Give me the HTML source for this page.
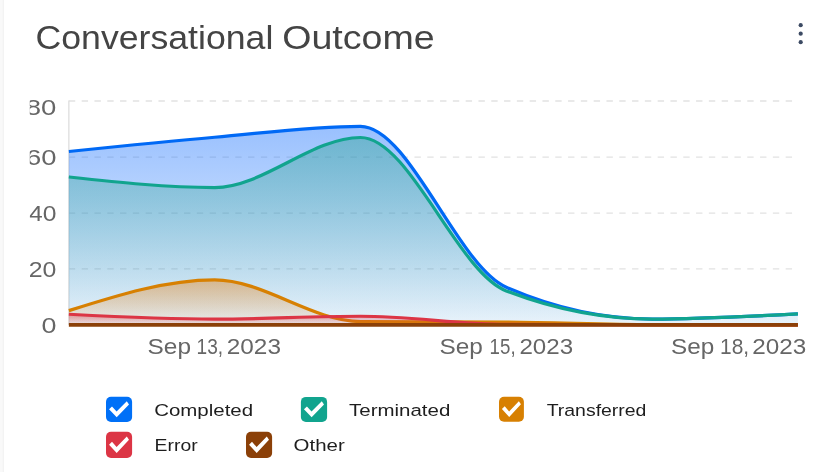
<!DOCTYPE html>
<html lang="en">
<head>
<meta charset="utf-8">
<title>Conversational Outcome</title>
<style>
html,body{margin:0;padding:0;background:#fff;}
body{width:826px;height:472px;overflow:hidden;font-family:'Liberation Sans', sans-serif;}
svg{display:block;position:absolute;left:0;top:0;}
text{font-family:'Liberation Sans', sans-serif;}
</style>
</head>
<body>
<svg width="826" height="472" viewBox="0 0 826 472">
<defs>
<linearGradient id="gCompleted" x1="0" y1="0" x2="0" y2="1"><stop offset="0" stop-color="rgb(20,110,253)" stop-opacity="0.433"/><stop offset="1" stop-color="rgb(20,110,253)" stop-opacity="0.063"/></linearGradient>
<linearGradient id="gTerminated" x1="0" y1="0" x2="0" y2="1"><stop offset="0" stop-color="rgb(44,163,144)" stop-opacity="0.426"/><stop offset="1" stop-color="rgb(44,163,144)" stop-opacity="0.036"/></linearGradient>
<linearGradient id="gTransferred" x1="0" y1="0" x2="0" y2="1"><stop offset="0" stop-color="rgb(235,128,15)" stop-opacity="0.435"/><stop offset="1" stop-color="rgb(235,128,15)" stop-opacity="0.048"/></linearGradient>
<linearGradient id="gError" x1="0" y1="0" x2="0" y2="1"><stop offset="0" stop-color="rgb(220,53,69)" stop-opacity="0.43"/><stop offset="1" stop-color="rgb(220,53,69)" stop-opacity="0.045"/></linearGradient>
<linearGradient id="gOther" x1="0" y1="0" x2="0" y2="1"><stop offset="0" stop-color="rgb(139,64,8)" stop-opacity="0.4"/><stop offset="1" stop-color="rgb(139,64,8)" stop-opacity="0.0"/></linearGradient>
<clipPath id="yclip"><rect x="29.8" y="90" width="40" height="260"/></clipPath>
</defs>
<rect x="0" y="0" width="3" height="472" fill="#f9f9f9"/>
<rect x="2.8" y="0" width="1" height="472" fill="#f1f1f1"/>
<text y="49.1" font-size="32.6" fill="#444"><tspan x="35.49" textLength="237.90" lengthAdjust="spacingAndGlyphs">Conversational</tspan> <tspan x="282.22" textLength="152.45" lengthAdjust="spacingAndGlyphs">Outcome</tspan></text>
<circle cx="800.7" cy="25.2" r="2.1" fill="#3c4a63"/>
<circle cx="800.7" cy="33.7" r="2.1" fill="#3c4a63"/>
<circle cx="800.7" cy="42.2" r="2.1" fill="#3c4a63"/>
<line x1="68.86" y1="101.00" x2="797.9" y2="101.00" stroke="#e2e2e2" stroke-width="1.28" stroke-dasharray="6.4 6.4"/>
<line x1="68.86" y1="157.08" x2="797.9" y2="157.08" stroke="#e2e2e2" stroke-width="1.28" stroke-dasharray="6.4 6.4"/>
<line x1="68.86" y1="213.02" x2="797.9" y2="213.02" stroke="#e2e2e2" stroke-width="1.28" stroke-dasharray="6.4 6.4"/>
<line x1="68.86" y1="268.96" x2="797.9" y2="268.96" stroke="#e2e2e2" stroke-width="1.28" stroke-dasharray="6.4 6.4"/>
<line x1="68.85" y1="100.4" x2="68.85" y2="324.9" stroke="#dedede" stroke-width="1.3"/>
<g clip-path="url(#yclip)" font-size="22.8" fill="#666">
<text x="25.80" y="115.2" textLength="30.62" lengthAdjust="spacingAndGlyphs">80</text>
<text x="25.91" y="165.1" textLength="30.51" lengthAdjust="spacingAndGlyphs">60</text>
<text x="28.94" y="221.0" textLength="27.38" lengthAdjust="spacingAndGlyphs">40</text>
<text x="28.65" y="277.0" textLength="27.67" lengthAdjust="spacingAndGlyphs">20</text>
<text x="41.45" y="333.0" textLength="14.95" lengthAdjust="spacingAndGlyphs">0</text>
</g>
<path d="M68.86,151.49C117.46,146.45,166.07,141.42,214.67,137.22C263.27,133.03,311.87,126.31,360.48,126.31C409.08,126.31,457.68,266.16,506.28,287.31C554.89,308.45,603.49,319.03,652.09,319.03C700.69,319.03,749.30,316.44,797.90,313.85L797.90,324.90L68.86,324.90Z" fill="url(#gCompleted)" stroke="none"/>
<path d="M68.86,151.49C117.46,146.45,166.07,141.42,214.67,137.22C263.27,133.03,311.87,126.31,360.48,126.31C409.08,126.31,457.68,266.16,506.28,287.31C554.89,308.45,603.49,319.03,652.09,319.03C700.69,319.03,749.30,316.44,797.90,313.85" fill="none" stroke="#0069f5" stroke-width="3.2" stroke-linejoin="round"/>
<path d="M68.86,176.94C117.46,182.25,166.07,187.57,214.67,187.57C263.27,187.57,311.87,137.50,360.48,137.50C409.08,137.50,457.68,272.13,506.28,290.89C554.89,309.65,603.49,319.03,652.09,319.03C700.69,319.03,749.30,316.44,797.90,313.85L797.90,324.90L68.86,324.90Z" fill="url(#gTerminated)" stroke="none"/>
<path d="M68.86,176.94C117.46,182.25,166.07,187.57,214.67,187.57C263.27,187.57,311.87,137.50,360.48,137.50C409.08,137.50,457.68,272.13,506.28,290.89C554.89,309.65,603.49,319.03,652.09,319.03C700.69,319.03,749.30,316.44,797.90,313.85" fill="none" stroke="#11a48e" stroke-width="3.2" stroke-linejoin="round"/>
<path d="M68.86,310.64C117.46,295.25,166.07,279.87,214.67,279.87C263.27,279.87,311.87,321.17,360.48,321.54C409.08,321.92,457.68,321.73,506.28,322.10C554.89,322.48,603.49,324.43,652.09,324.62C700.69,324.81,749.30,324.85,797.90,324.90L797.90,324.90L68.86,324.90Z" fill="url(#gTransferred)" stroke="none"/>
<path d="M68.86,310.64C117.46,295.25,166.07,279.87,214.67,279.87C263.27,279.87,311.87,321.17,360.48,321.54C409.08,321.92,457.68,321.73,506.28,322.10C554.89,322.48,603.49,324.43,652.09,324.62C700.69,324.81,749.30,324.85,797.90,324.90" fill="none" stroke="#d78002" stroke-width="3.2" stroke-linejoin="round"/>
<path d="M68.86,314.27C117.46,316.72,166.07,319.17,214.67,319.17C263.27,319.17,311.87,316.23,360.48,316.23C409.08,316.23,457.68,323.97,506.28,324.34C554.89,324.71,603.49,324.90,652.09,324.90C700.69,324.90,749.30,324.90,797.90,324.90L797.90,324.90L68.86,324.90Z" fill="url(#gError)" stroke="none"/>
<path d="M68.86,314.27C117.46,316.72,166.07,319.17,214.67,319.17C263.27,319.17,311.87,316.23,360.48,316.23C409.08,316.23,457.68,323.97,506.28,324.34C554.89,324.71,603.49,324.90,652.09,324.90C700.69,324.90,749.30,324.90,797.90,324.90" fill="none" stroke="#dc3545" stroke-width="3.2" stroke-linejoin="round"/>
<path d="M68.86,324.90C117.46,324.90,166.07,324.90,214.67,324.90C263.27,324.90,311.87,324.90,360.48,324.90C409.08,324.90,457.68,324.90,506.28,324.90C554.89,324.90,603.49,324.90,652.09,324.90C700.69,324.90,749.30,324.90,797.90,324.90L797.90,324.90L68.86,324.90Z" fill="url(#gOther)" stroke="none"/>
<path d="M68.86,324.90C117.46,324.90,166.07,324.90,214.67,324.90C263.27,324.90,311.87,324.90,360.48,324.90C409.08,324.90,457.68,324.90,506.28,324.90C554.89,324.90,603.49,324.90,652.09,324.90C700.69,324.90,749.30,324.90,797.90,324.90" fill="none" stroke="#8b4008" stroke-width="3.6" stroke-linejoin="round"/>
<text y="353.5" font-size="22.8" fill="#666"><tspan x="147.59" textLength="43.43" lengthAdjust="spacingAndGlyphs">Sep</tspan> <tspan x="196.54" textLength="26.57" lengthAdjust="spacingAndGlyphs">13,</tspan> <tspan x="226.77" textLength="54.20" lengthAdjust="spacingAndGlyphs">2023</tspan></text>
<text y="353.5" font-size="22.8" fill="#666"><tspan x="439.54" textLength="43.38" lengthAdjust="spacingAndGlyphs">Sep</tspan> <tspan x="489.58" textLength="26.01" lengthAdjust="spacingAndGlyphs">15,</tspan> <tspan x="519.44" textLength="53.62" lengthAdjust="spacingAndGlyphs">2023</tspan></text>
<text y="353.5" font-size="22.8" fill="#666"><tspan x="671.10" textLength="43.22" lengthAdjust="spacingAndGlyphs">Sep</tspan> <tspan x="720.01" textLength="29.07" lengthAdjust="spacingAndGlyphs">18,</tspan> <tspan x="752.38" textLength="53.99" lengthAdjust="spacingAndGlyphs">2023</tspan></text>
<rect x="106.0" y="396.8" width="26.1" height="25.2" rx="5" ry="5" fill="#0070f7"/><polygon fill="#fff" points="109.05,409.20 116.70,417.20 129.00,404.40 126.80,401.25 116.60,411.50 112.00,406.40"/>
<text x="154.16" y="415.6" font-size="16.9" fill="#1e1e1e" textLength="98.96" lengthAdjust="spacingAndGlyphs">Completed</text>
<rect x="300.9" y="396.9" width="26.2" height="25.0" rx="5" ry="5" fill="#11a48e"/><polygon fill="#fff" points="303.96,409.20 311.64,417.14 323.99,404.44 321.78,401.31 311.54,411.48 306.92,406.42"/>
<text x="349.05" y="415.6" font-size="16.9" fill="#1e1e1e" textLength="101.24" lengthAdjust="spacingAndGlyphs">Terminated</text>
<rect x="499.0" y="396.8" width="24.9" height="25.0" rx="5" ry="5" fill="#d78002"/><polygon fill="#fff" points="501.91,409.10 509.21,417.04 520.94,404.34 518.84,401.21 509.11,411.38 504.72,406.32"/>
<text x="546.67" y="415.6" font-size="16.9" fill="#1e1e1e" textLength="99.78" lengthAdjust="spacingAndGlyphs">Transferred</text>
<rect x="106.0" y="431.8" width="26.1" height="26.2" rx="5" ry="5" fill="#dc3545"/><polygon fill="#fff" points="109.05,444.69 116.70,453.01 129.00,439.70 126.80,436.43 116.60,447.08 112.00,441.78"/>
<text x="154.61" y="450.7" font-size="16.9" fill="#1e1e1e" textLength="43.01" lengthAdjust="spacingAndGlyphs">Error</text>
<rect x="246.0" y="431.8" width="26.1" height="26.2" rx="5" ry="5" fill="#8b4008"/><polygon fill="#fff" points="249.05,444.69 256.70,453.01 269.00,439.70 266.80,436.43 256.60,447.08 252.00,441.78"/>
<text x="293.63" y="450.7" font-size="16.9" fill="#1e1e1e" textLength="51.11" lengthAdjust="spacingAndGlyphs">Other</text>
</svg>
</body>
</html>
